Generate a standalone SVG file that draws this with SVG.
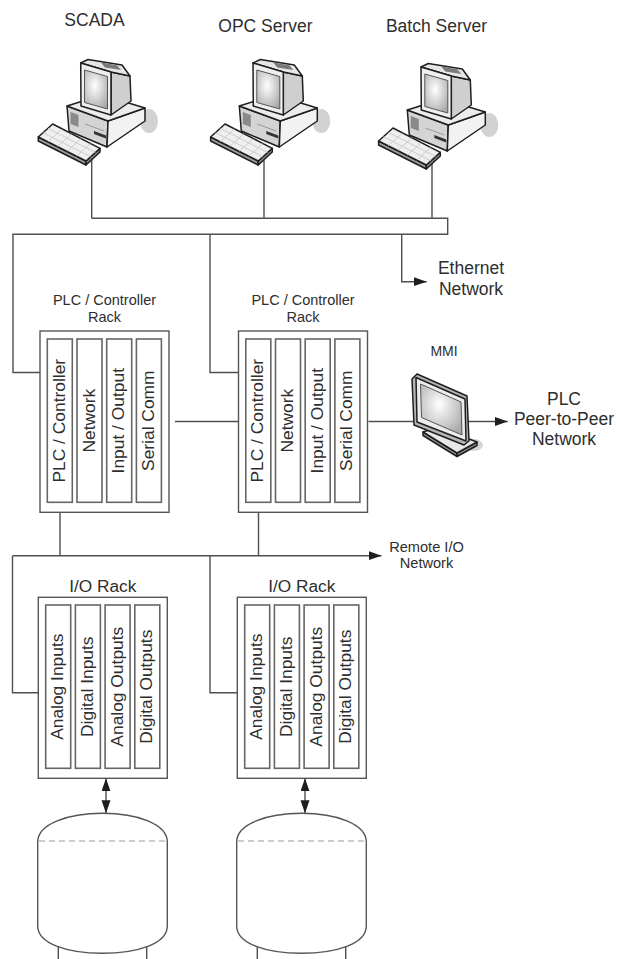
<svg xmlns="http://www.w3.org/2000/svg" xmlns:xlink="http://www.w3.org/1999/xlink" width="617" height="959" viewBox="0 0 617 959">
  <style>
    .wire { fill: none; stroke: #4f4f4f; stroke-width: 1.4; }
    .rack { fill: #ffffff; stroke: #555555; stroke-width: 1.4; }
    .slot { fill: #ffffff; stroke: #666666; stroke-width: 1.6; }
    .ink { stroke: #1e1e1e; stroke-width: 1.5; stroke-linejoin: round; }
    .lbl { font-family: "Liberation Sans", Arial, sans-serif; fill: #2e2e2e; text-anchor: middle; }
    .big { font-size: 17.5px; }
    .mid { font-size: 14.5px; }
    .mod { font-size: 17.4px; }
    .tank { fill: #ffffff; stroke: #555555; stroke-width: 1.4; }
    .level { fill: none; stroke: #bdbdbd; stroke-width: 1.4; stroke-dasharray: 6 4; }
  </style>
  <defs>
    <radialGradient id="screen" cx="0.45" cy="0.4" r="0.7">
      <stop offset="0" stop-color="#ffffff"/>
      <stop offset="1" stop-color="#a8a8a8"/>
    </radialGradient>
    <marker id="head" markerUnits="userSpaceOnUse" markerWidth="14" markerHeight="10" refX="13" refY="4.5" orient="auto-start-reverse">
      <path d="M0,0 L13,4.5 L0,9 Z" fill="#1e1e1e"/>
    </marker>
    <!-- desktop workstation: monitor on a system unit with keyboard -->
    <g id="pc">
      <ellipse cx="149" cy="121" rx="9" ry="12" fill="#d2d2d2"/>
      <polygon class="ink" points="67,106 108,121 107,147 69,131" fill="#d4d4d4"/>
      <polygon class="ink" points="108,121 145,108 145,121 107,147" fill="#f2f2f2"/>
      <polygon class="ink" points="67,106 102,95 145,108 108,121" fill="#ececec"/>
      <polygon points="70.5,112 78.5,115 78.5,127 70.5,124" fill="#8a8a8a"/>
      <polygon points="94,131 106,135.5 106,138.5 94,134" fill="#333333"/>
      <path d="M85,124 L104,131" stroke="#999" stroke-width="1"/>
      <polygon class="ink" points="111,72 130,76 131,101 111,115" fill="#cfcfcf"/>
      <polygon class="ink" points="80.7,63 88,59.5 122,65 130,76 111,72" fill="#e6e6e6"/>
      <polygon points="101,62.5 117,65.3 121,70 105,67.5" fill="#7a7a7a"/>
      <polygon class="ink" points="80.7,63 111,72 111,115 81,106" fill="#efefef"/>
      <polygon points="84.5,70 107.5,76.5 107.5,109 84.5,102.5" fill="url(#screen)" stroke="#555" stroke-width="1"/>
      <polygon class="ink" points="38.3,137 86,161 86,165 38.3,141" fill="#9c9c9c"/>
      <polygon class="ink" points="86,161 100,148.3 100,152 86,165" fill="#8a8a8a"/>
      <polygon class="ink" points="38.3,137 52.7,124 100,148.3 86,161" fill="#efefef"/>
      <path d="M47.8,141.8 L62.2,128.9 M57.4,146.6 L71.6,133.7 M66.9,151.4 L81.1,138.6 M76.5,156.2 L90.5,143.4 M43.1,132.7 L90.6,156.8 M48,128.3 L95.4,152.5" stroke="#c4c4c4" stroke-width="0.8" fill="none"/>
    </g>
  </defs>

  <!-- connectors -->
  <g id="connectors">
    <path class="wire" d="M91.7,157 V218.3 M264,157 V218.3 M432,161 V218.3"/>
    <path class="wire" d="M91.7,218.3 H447.7 V234.3 H13 V372.5 H40"/>
    <path class="wire" d="M210,234.3 V372.5 H238.5"/>
    <path class="wire" d="M401.7,234.3 V281.7 H426.7" marker-end="url(#head)"/>
    <path class="wire" d="M175,421.5 H238.5"/>
    <path class="wire" d="M368.5,421.5 H416"/>
    <path class="wire" d="M468,421.5 H507.7" marker-end="url(#head)"/>
    <path class="wire" d="M60,502.3 V555.7 M258.5,502.3 V555.7"/>
    <path class="wire" d="M12.5,555.7 H381.5" marker-end="url(#head)"/>
    <path class="wire" d="M12.5,555.7 V692.7 H38.3"/>
    <path class="wire" d="M210,555.7 V692.7 H237.3"/>
    <path class="wire" d="M106,778.3 V813.3" marker-start="url(#head)" marker-end="url(#head)"/>
    <path class="wire" d="M305,778.3 V813.3" marker-start="url(#head)" marker-end="url(#head)"/>
  </g>

  <!-- workstations -->
  <g id="scada">
    <use xlink:href="#pc"/>
    <text class="lbl big" x="94.5" y="26">SCADA</text>
  </g>
  <g id="opc-server">
    <use xlink:href="#pc" transform="translate(172.3,0)"/>
    <text class="lbl big" x="265.5" y="32">OPC Server</text>
  </g>
  <g id="batch-server">
    <use xlink:href="#pc" transform="translate(340.3,4)"/>
    <text class="lbl big" x="436.5" y="32">Batch Server</text>
  </g>

  <g id="ethernet-network">
    <text class="lbl big" x="471" y="274">Ethernet</text>
    <text class="lbl big" x="471" y="295">Network</text>
  </g>

  <!-- PLC / controller racks -->
  <g id="plc-rack-1">
    <text class="lbl mid" x="104.5" y="305">PLC / Controller</text>
    <text class="lbl mid" x="104.5" y="322.3">Rack</text>
    <rect class="rack" x="40" y="331" width="129" height="181.3"/>
    <rect class="slot" x="47.3" y="339" width="25" height="163.3"/>
    <rect class="slot" x="77" y="339" width="25" height="163.3"/>
    <rect class="slot" x="106.7" y="339" width="25" height="163.3"/>
    <rect class="slot" x="136.4" y="339" width="25" height="163.3"/>
    <text class="lbl mod" transform="translate(64.8,420.7) rotate(-90)">PLC / Controller</text>
    <text class="lbl mod" transform="translate(94.5,420.7) rotate(-90)">Network</text>
    <text class="lbl mod" transform="translate(124.2,420.7) rotate(-90)">Input / Output</text>
    <text class="lbl mod" transform="translate(153.9,420.7) rotate(-90)">Serial Comm</text>
  </g>
  <g id="plc-rack-2">
    <text class="lbl mid" x="303" y="305">PLC / Controller</text>
    <text class="lbl mid" x="303" y="322.3">Rack</text>
    <rect class="rack" x="238.5" y="331" width="129" height="181.3"/>
    <rect class="slot" x="245.8" y="339" width="25" height="163.3"/>
    <rect class="slot" x="275.5" y="339" width="25" height="163.3"/>
    <rect class="slot" x="305.2" y="339" width="25" height="163.3"/>
    <rect class="slot" x="334.9" y="339" width="25" height="163.3"/>
    <text class="lbl mod" transform="translate(263.3,420.7) rotate(-90)">PLC / Controller</text>
    <text class="lbl mod" transform="translate(293,420.7) rotate(-90)">Network</text>
    <text class="lbl mod" transform="translate(322.7,420.7) rotate(-90)">Input / Output</text>
    <text class="lbl mod" transform="translate(352.4,420.7) rotate(-90)">Serial Comm</text>
  </g>

  <!-- operator panel -->
  <g id="mmi">
    <text class="lbl" style="font-size:14px" x="444" y="356">MMI</text>
    <ellipse cx="474" cy="445" rx="9" ry="6" fill="#d5d5d5"/>
    <polygon class="ink" points="423,432 457,453 457,456.5 423,435.5" fill="#9a9a9a"/>
    <polygon class="ink" points="457,453 477,442 477,445.5 457,456.5" fill="#8a8a8a"/>
    <polygon class="ink" points="423,432 438,427 477,442 457,453" fill="#e8e8e8"/>
    <polygon class="ink" points="436,423 447,427.5 447,437 436,432.5" fill="#bbbbbb"/>
    <polygon class="ink" points="412,379 417,374 467,396 469,441 464,445 414,425" fill="#b5b5b5"/>
    <polygon class="ink" points="416,377.5 465,399 466,441 417,422" fill="#ececec"/>
    <polygon points="420.5,384 461,402 462,435 421.5,417.5" fill="url(#screen)" stroke="#555" stroke-width="1"/>
  </g>

  <g id="plc-peer-network">
    <text class="lbl big" x="564" y="405">PLC</text>
    <text class="lbl big" x="564" y="425">Peer-to-Peer</text>
    <text class="lbl big" x="564" y="445">Network</text>
  </g>

  <g id="remote-io-network">
    <text class="lbl" style="font-size:14.6px" x="426.5" y="552">Remote I/O</text>
    <text class="lbl" style="font-size:14.6px" x="426.5" y="568">Network</text>
  </g>

  <!-- I/O racks -->
  <g id="io-rack-1">
    <text class="lbl" style="font-size:17.3px" x="102.8" y="591.7">I/O Rack</text>
    <rect class="rack" x="38.3" y="597.3" width="129" height="181"/>
    <rect class="slot" x="45.7" y="605" width="25" height="163.3"/>
    <rect class="slot" x="75.4" y="605" width="25" height="163.3"/>
    <rect class="slot" x="105.1" y="605" width="25" height="163.3"/>
    <rect class="slot" x="134.8" y="605" width="25" height="163.3"/>
    <text class="lbl mod" transform="translate(63.2,686.7) rotate(-90)">Analog Inputs</text>
    <text class="lbl mod" transform="translate(92.9,686.7) rotate(-90)">Digital Inputs</text>
    <text class="lbl mod" transform="translate(122.6,686.7) rotate(-90)">Analog Outputs</text>
    <text class="lbl mod" transform="translate(152.3,686.7) rotate(-90)">Digital Outputs</text>
  </g>
  <g id="io-rack-2">
    <text class="lbl" style="font-size:17.3px" x="301.8" y="591.7">I/O Rack</text>
    <rect class="rack" x="237.3" y="597.3" width="129" height="181"/>
    <rect class="slot" x="244.7" y="605" width="25" height="163.3"/>
    <rect class="slot" x="274.4" y="605" width="25" height="163.3"/>
    <rect class="slot" x="304.1" y="605" width="25" height="163.3"/>
    <rect class="slot" x="333.8" y="605" width="25" height="163.3"/>
    <text class="lbl mod" transform="translate(262.2,686.7) rotate(-90)">Analog Inputs</text>
    <text class="lbl mod" transform="translate(291.9,686.7) rotate(-90)">Digital Inputs</text>
    <text class="lbl mod" transform="translate(321.6,686.7) rotate(-90)">Analog Outputs</text>
    <text class="lbl mod" transform="translate(351.3,686.7) rotate(-90)">Digital Outputs</text>
  </g>

  <!-- process vessels -->
  <g id="tank-1">
    <path class="wire" d="M58.3,940 V960 M146.7,940 V960"/>
    <path class="tank" d="M37.7,842 C37.7,824 68,813.3 102.5,813.3 C137,813.3 167.3,824 167.3,842 V926 C167.3,944 137,953.3 102.5,953.3 C68,953.3 37.7,944 37.7,926 Z"/>
    <path class="level" d="M39,841 H166"/>
  </g>
  <g id="tank-2">
    <path class="wire" d="M257.3,940 V960 M345.7,940 V960"/>
    <path class="tank" d="M236.7,842 C236.7,824 267,813.3 301.5,813.3 C336,813.3 366.3,824 366.3,842 V926 C366.3,944 336,953.3 301.5,953.3 C267,953.3 236.7,944 236.7,926 Z"/>
    <path class="level" d="M238,841 H365"/>
  </g>
</svg>
